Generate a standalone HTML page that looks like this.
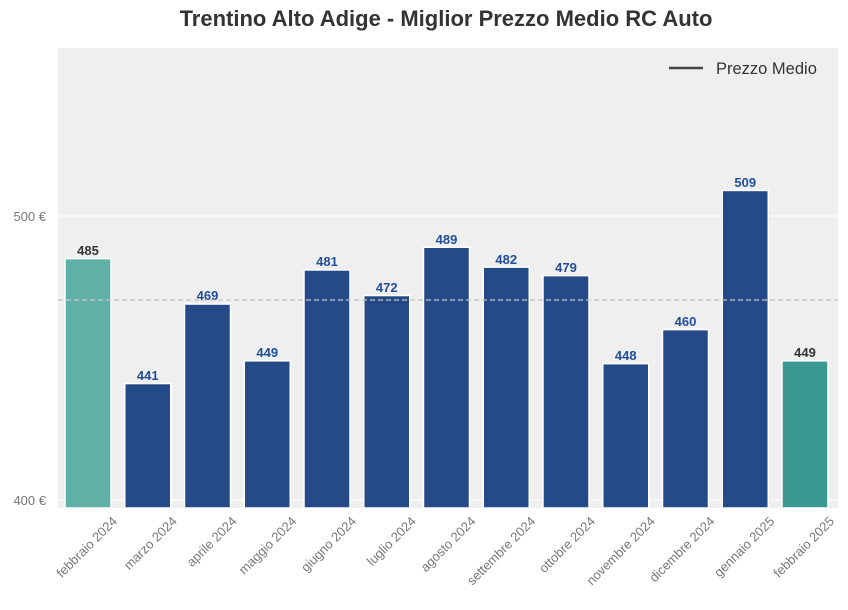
<!DOCTYPE html>
<html><head><meta charset="utf-8"><style>body{margin:0;background:#fff}svg{display:block;font-family:"Liberation Sans",Arial,sans-serif}</style></head><body>
<svg width="848" height="610" viewBox="0 0 848 610">
<text x="446" y="26" text-anchor="middle" font-size="22" font-weight="bold" fill="#333">Trentino Alto Adige - Miglior Prezzo Medio RC Auto</text>
<rect x="58" y="48" width="780" height="460" fill="#efeff0"/>
<line x1="58" y1="216" x2="838" y2="216" stroke="#fff" stroke-width="1"/>
<line x1="58" y1="500" x2="838" y2="500" stroke="#fff" stroke-width="1"/>
<text x="46" y="221" text-anchor="end" font-size="13" fill="#777">500 €</text>
<text x="46" y="505" text-anchor="end" font-size="13" fill="#777">400 €</text>
<g stroke="#fff" stroke-width="1.5">
<rect x="65" y="258.6" width="46" height="249.4" fill="#5fb0a7"/>
<rect x="124.75" y="383.56" width="46" height="124.44" fill="#244a87"/>
<rect x="184.5" y="304.04" width="46" height="203.96" fill="#244a87"/>
<rect x="244.25" y="360.84" width="46" height="147.16" fill="#244a87"/>
<rect x="304" y="269.96" width="46" height="238.04" fill="#244a87"/>
<rect x="363.75" y="295.52" width="46" height="212.48" fill="#244a87"/>
<rect x="423.5" y="247.24" width="46" height="260.76" fill="#244a87"/>
<rect x="483.25" y="267.12" width="46" height="240.88" fill="#244a87"/>
<rect x="543" y="275.64" width="46" height="232.36" fill="#244a87"/>
<rect x="602.75" y="363.68" width="46" height="144.32" fill="#244a87"/>
<rect x="662.5" y="329.6" width="46" height="178.4" fill="#244a87"/>
<rect x="722.25" y="190.44" width="46" height="317.56" fill="#244a87"/>
<rect x="782" y="360.84" width="46" height="147.16" fill="#3a9a92"/>
</g>
<g font-size="13" font-weight="bold" text-anchor="middle" fill="#1f4e9a">
<text x="88" y="255" fill="#333">485</text>
<text x="147.75" y="380">441</text>
<text x="207.5" y="300">469</text>
<text x="267.25" y="357">449</text>
<text x="327" y="266">481</text>
<text x="386.75" y="292">472</text>
<text x="446.5" y="244">489</text>
<text x="506.25" y="264">482</text>
<text x="566" y="272">479</text>
<text x="625.75" y="360">448</text>
<text x="685.5" y="326">460</text>
<text x="745.25" y="187">509</text>
<text x="805" y="357" fill="#333">449</text>
</g>
<line x1="58" y1="300" x2="838" y2="300" stroke="#c4c4c8" stroke-width="1.2" stroke-dasharray="5,3"/>
<g font-size="13" fill="#777" text-anchor="end">
<text transform="translate(118,522) rotate(-45)">febbraio 2024</text>
<text transform="translate(177.75,522) rotate(-45)">marzo 2024</text>
<text transform="translate(237.5,522) rotate(-45)">aprile 2024</text>
<text transform="translate(297.25,522) rotate(-45)">maggio 2024</text>
<text transform="translate(357,522) rotate(-45)">giugno 2024</text>
<text transform="translate(416.75,522) rotate(-45)">luglio 2024</text>
<text transform="translate(476.5,522) rotate(-45)">agosto 2024</text>
<text transform="translate(536.25,522) rotate(-45)">settembre 2024</text>
<text transform="translate(596,522) rotate(-45)">ottobre 2024</text>
<text transform="translate(655.75,522) rotate(-45)">novembre 2024</text>
<text transform="translate(715.5,522) rotate(-45)">dicembre 2024</text>
<text transform="translate(775.25,522) rotate(-45)">gennaio 2025</text>
<text transform="translate(835,522) rotate(-45)">febbraio 2025</text>
</g>
<line x1="669" y1="68" x2="703" y2="68" stroke="#444" stroke-width="2.5"/>
<text x="716" y="74" font-size="16.5" fill="#333">Prezzo Medio</text>
</svg></body></html>
